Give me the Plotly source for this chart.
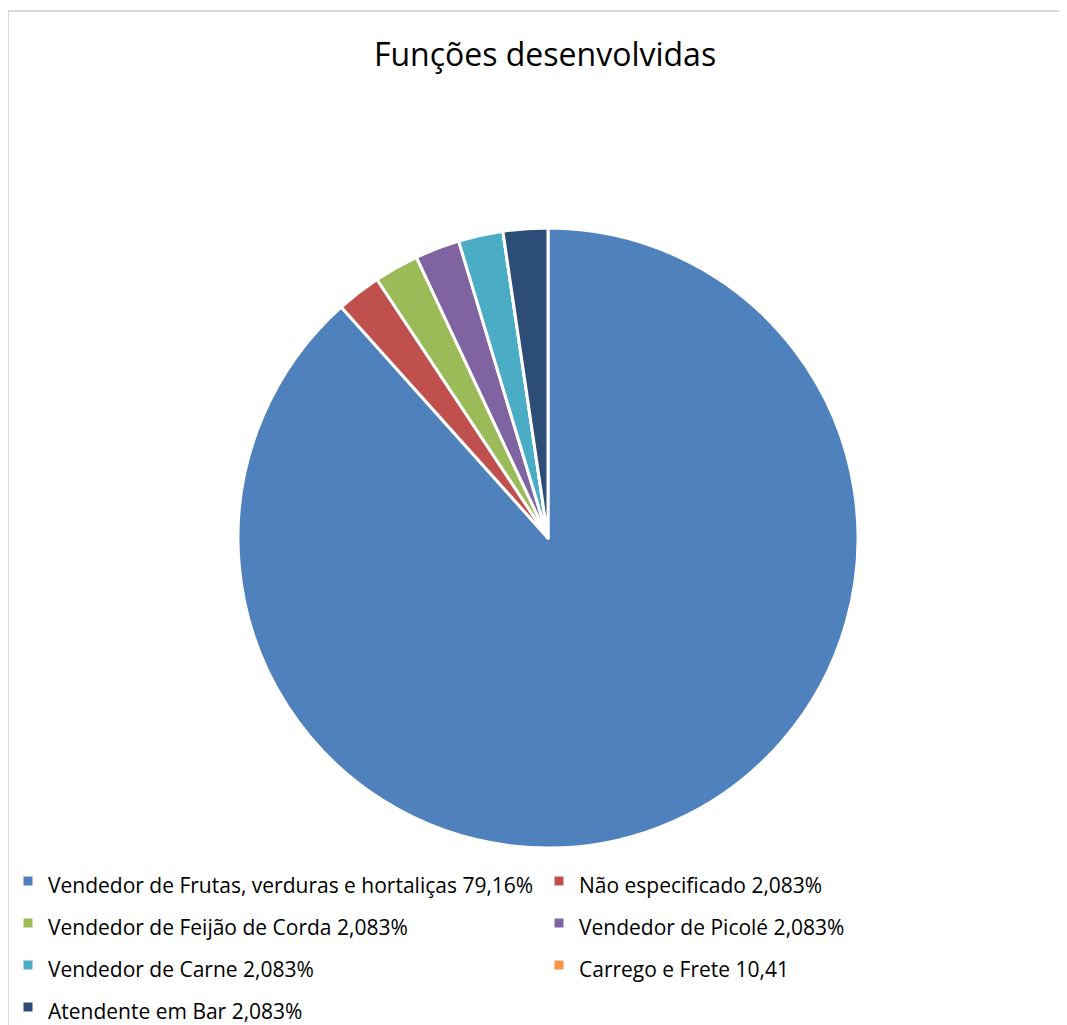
import plotly.graph_objects as go

labels = [
    "Vendedor de Frutas, verduras e hortaliças 79,16%",
    "Não especificado 2,083%",
    "Vendedor de Feijão de Corda 2,083%",
    "Vendedor de Picolé 2,083%",
    "Vendedor de Carne 2,083%",
    "Carrego e Frete 10,41",
    "Atendente em Bar 2,083%",
]
values = [79.16, 2.083, 2.083, 2.083, 2.083, 0, 2.083]
colors = ["#4F81BD", "#C0504D", "#9BBB59", "#8064A2", "#4BACC6", "#F79646", "#2C4D75"]

W, H = 1067, 1025
OFF = 8  # page body margin

def px_x(x):
    return (x - OFF) / W

def px_y(y):
    return 1 - (y - OFF) / H

# legend text drawn smaller than the legend base font so rows get Excel-like spacing
legend_labels = ['<span style="font-size:21px">' + s + "</span>" for s in labels]

fig = go.Figure(go.Pie(
    labels=legend_labels,
    values=values,
    sort=False,
    direction="clockwise",
    rotation=0,
    textinfo="none",
    hoverinfo="label+value",
    marker=dict(colors=colors, line=dict(color="white", width=3)),
    domain=dict(x=[px_x(238), px_x(858)], y=[px_y(848), px_y(228)]),
))

fig.update_layout(
    width=W, height=H,
    margin=dict(l=0, r=0, t=0, b=0, autoexpand=False),
    paper_bgcolor="white",
    title=dict(text="Funções desenvolvidas", x=px_x(545), xanchor="center",
               y=px_y(55), yanchor="middle",
               font=dict(family="Open Sans", size=32, color="#000000")),
    legend=dict(orientation="h", x=0.0, xanchor="left", y=px_y(855), yanchor="top",
                entrywidth=486, entrywidthmode="pixels",
                bgcolor="rgba(0,0,0,0)",
                font=dict(family="Open Sans", size=30, color="#000000"),
                itemwidth=30),
    shapes=[dict(type="line", xref="paper", yref="paper",
                 x0=0, x1=0, y0=-0.02, y1=px_y(11),
                 line=dict(color="#D9D9D9", width=2)),
            dict(type="line", xref="paper", yref="paper",
                 x0=0, x1=1.02, y0=px_y(11), y1=px_y(11),
                 line=dict(color="#D9D9D9", width=2))],
)

fig.write_html("out.html")
